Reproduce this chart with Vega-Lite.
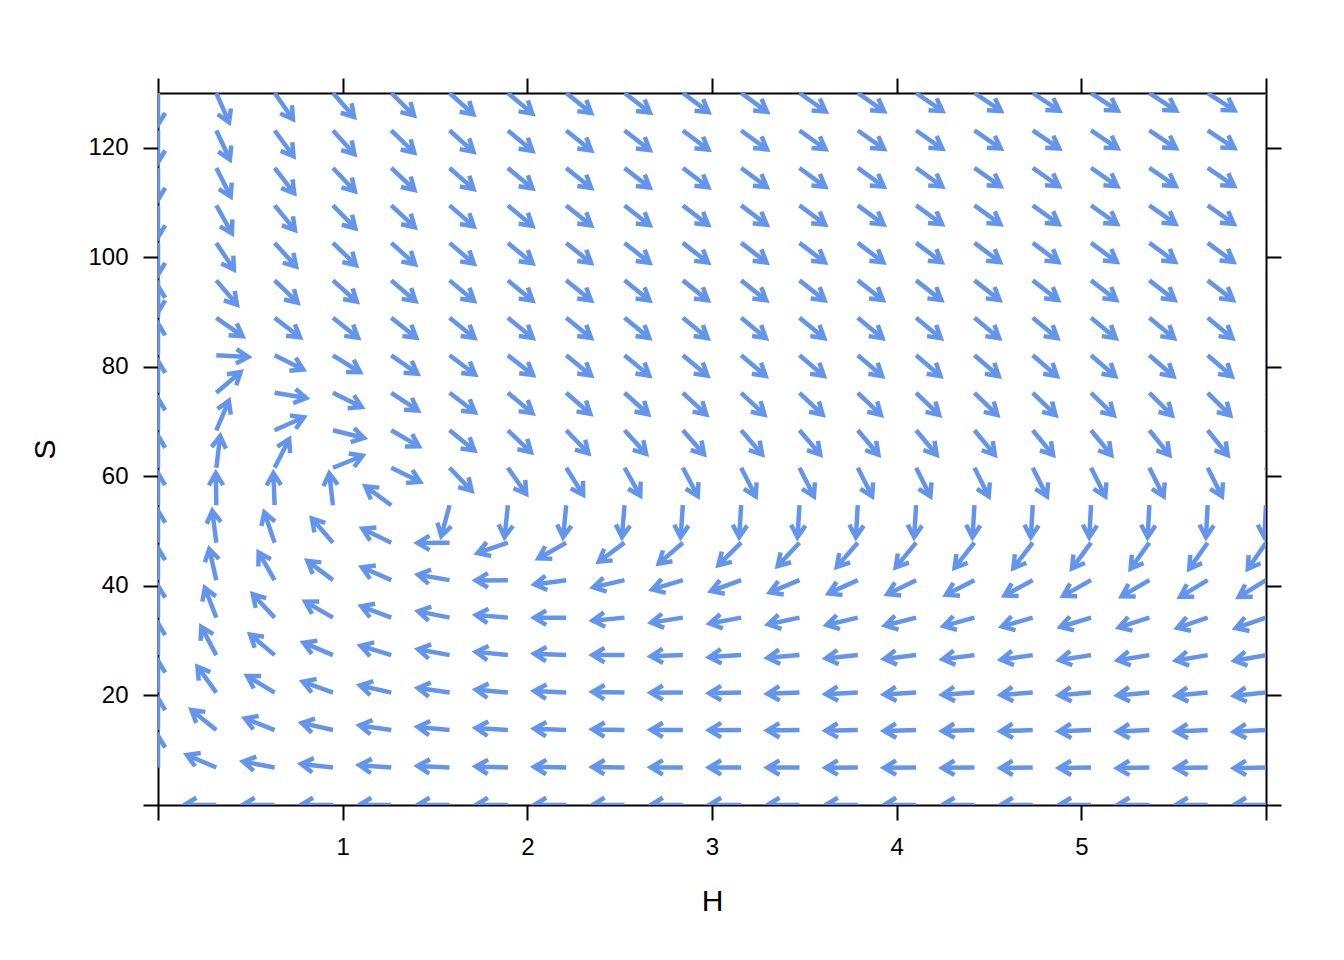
{
"$schema": "https://vega.github.io/schema/vega-lite/v6.json",
"width": 1108, "height": 712,
"autosize": "none",
"padding": {"left": 158, "top": 93, "right": 78, "bottom": 155},
"background": "white",
"config": {
  "view": {"stroke": null},
  "axis": {"grid": false, "domainColor": "black", "domainWidth": 2, "tickColor": "black", "tickWidth": 2, "tickSize": 15,
    "labelFont": "Liberation Sans", "labelFontSize": 24, "labelColor": "black", "labelOverlap": false, "labelFlush": false,
    "titleFont": "Liberation Sans", "titleFontSize": 30, "titleFontWeight": "normal", "titleColor": "black"}
},
"data": {"values": [
{"H":0,"S":6.842,"dir":270},{"H":0,"S":13.684,"dir":270},{"H":0,"S":20.526,"dir":270},{"H":0,"S":27.368,"dir":270},{"H":0,"S":34.211,"dir":270},{"H":0,"S":41.053,"dir":270},{"H":0,"S":47.895,"dir":270},{"H":0,"S":54.737,"dir":270},{"H":0,"S":61.579,"dir":270},{"H":0,"S":68.421,"dir":270},{"H":0,"S":75.263,"dir":270},{"H":0,"S":82.105,"dir":270},{"H":0,"S":88.947,"dir":270},{"H":0,"S":95.789,"dir":90},{"H":0,"S":102.632,"dir":90},{"H":0,"S":109.474,"dir":90},{"H":0,"S":116.316,"dir":90},{"H":0,"S":123.158,"dir":90},{"H":0,"S":130,"dir":90},
{"H":0.3158,"S":0,"dir":180},{"H":0.6316,"S":0,"dir":180},{"H":0.9474,"S":0,"dir":180},{"H":1.2632,"S":0,"dir":180},{"H":1.5789,"S":0,"dir":180},{"H":1.8947,"S":0,"dir":180},{"H":2.2105,"S":0,"dir":180},{"H":2.5263,"S":0,"dir":180},{"H":2.8421,"S":0,"dir":180},{"H":3.1579,"S":0,"dir":180},{"H":3.4737,"S":0,"dir":180},{"H":3.7895,"S":0,"dir":180},{"H":4.1053,"S":0,"dir":180},{"H":4.4211,"S":0,"dir":180},{"H":4.7368,"S":0,"dir":180},{"H":5.0526,"S":0,"dir":180},{"H":5.3684,"S":0,"dir":180},{"H":5.6842,"S":0,"dir":180},{"H":6,"S":0,"dir":180},
{"H":0.3158,"S":6.842,"dir":203.1},{"H":0.6316,"S":6.842,"dir":190.8},{"H":0.9474,"S":6.842,"dir":186.4},{"H":1.2632,"S":6.842,"dir":184.2},{"H":1.5789,"S":6.842,"dir":182.9},{"H":1.8947,"S":6.842,"dir":182.0},{"H":2.2105,"S":6.842,"dir":181.3},{"H":2.5263,"S":6.842,"dir":180.8},{"H":2.8421,"S":6.842,"dir":180.5},{"H":3.1579,"S":6.842,"dir":180.2},{"H":3.4737,"S":6.842,"dir":179.9},{"H":3.7895,"S":6.842,"dir":179.7},{"H":4.1053,"S":6.842,"dir":179.5},{"H":4.4211,"S":6.842,"dir":179.4},{"H":4.7368,"S":6.842,"dir":179.3},{"H":5.0526,"S":6.842,"dir":179.1},{"H":5.3684,"S":6.842,"dir":179.0},{"H":5.6842,"S":6.842,"dir":179.0},{"H":6,"S":6.842,"dir":178.9},
{"H":0.3158,"S":13.684,"dir":219},{"H":0.6316,"S":13.684,"dir":201.6},{"H":0.9474,"S":13.684,"dir":192.9},{"H":1.2632,"S":13.684,"dir":188.3},{"H":1.5789,"S":13.684,"dir":185.5},{"H":1.8947,"S":13.684,"dir":183.6},{"H":2.2105,"S":13.684,"dir":182.3},{"H":2.5263,"S":13.684,"dir":181.2},{"H":2.8421,"S":13.684,"dir":180.4},{"H":3.1579,"S":13.684,"dir":179.8},{"H":3.4737,"S":13.684,"dir":179.3},{"H":3.7895,"S":13.684,"dir":178.8},{"H":4.1053,"S":13.684,"dir":178.5},{"H":4.4211,"S":13.684,"dir":178.2},{"H":4.7368,"S":13.684,"dir":177.9},{"H":5.0526,"S":13.684,"dir":177.7},{"H":5.3684,"S":13.684,"dir":177.4},{"H":5.6842,"S":13.684,"dir":177.3},{"H":6,"S":13.684,"dir":177.1},
{"H":0.3158,"S":20.526,"dir":234},{"H":0.6316,"S":20.526,"dir":211},{"H":0.9474,"S":20.526,"dir":200.0},{"H":1.2632,"S":20.526,"dir":192.7},{"H":1.5789,"S":20.526,"dir":188.2},{"H":1.8947,"S":20.526,"dir":185.1},{"H":2.2105,"S":20.526,"dir":182.8},{"H":2.5263,"S":20.526,"dir":181.2},{"H":2.8421,"S":20.526,"dir":179.8},{"H":3.1579,"S":20.526,"dir":178.8},{"H":3.4737,"S":20.526,"dir":177.9},{"H":3.7895,"S":20.526,"dir":177.2},{"H":4.1053,"S":20.526,"dir":176.6},{"H":4.4211,"S":20.526,"dir":176.1},{"H":4.7368,"S":20.526,"dir":175.7},{"H":5.0526,"S":20.526,"dir":175.3},{"H":5.3684,"S":20.526,"dir":174.9},{"H":5.6842,"S":20.526,"dir":174.6},{"H":6,"S":20.526,"dir":174.3},
{"H":0.3158,"S":27.368,"dir":242},{"H":0.6316,"S":27.368,"dir":220},{"H":0.9474,"S":27.368,"dir":203},{"H":1.2632,"S":27.368,"dir":197.0},{"H":1.5789,"S":27.368,"dir":190.4},{"H":1.8947,"S":27.368,"dir":185.8},{"H":2.2105,"S":27.368,"dir":182.5},{"H":2.5263,"S":27.368,"dir":180.0},{"H":2.8421,"S":27.368,"dir":178.0},{"H":3.1579,"S":27.368,"dir":176.4},{"H":3.4737,"S":27.368,"dir":175.2},{"H":3.7895,"S":27.368,"dir":174.1},{"H":4.1053,"S":27.368,"dir":173.2},{"H":4.4211,"S":27.368,"dir":172.5},{"H":4.7368,"S":27.368,"dir":171.8},{"H":5.0526,"S":27.368,"dir":171.2},{"H":5.3684,"S":27.368,"dir":170.7},{"H":5.6842,"S":27.368,"dir":170.3},{"H":6,"S":27.368,"dir":169.9},
{"H":0.3158,"S":34.211,"dir":249},{"H":0.6316,"S":34.211,"dir":227},{"H":0.9474,"S":34.211,"dir":210},{"H":1.2632,"S":34.211,"dir":200.7},{"H":1.5789,"S":34.211,"dir":191.3},{"H":1.8947,"S":34.211,"dir":184.7},{"H":2.2105,"S":34.211,"dir":179.9},{"H":2.5263,"S":34.211,"dir":174.5},{"H":2.8421,"S":34.211,"dir":171},{"H":3.1579,"S":34.211,"dir":169.5},{"H":3.4737,"S":34.211,"dir":168},{"H":3.7895,"S":34.211,"dir":166.8},{"H":4.1053,"S":34.211,"dir":165.7},{"H":4.4211,"S":34.211,"dir":164.7},{"H":4.7368,"S":34.211,"dir":163.8},{"H":5.0526,"S":34.211,"dir":163},{"H":5.3684,"S":34.211,"dir":162.2},{"H":5.6842,"S":34.211,"dir":161.5},{"H":6,"S":34.211,"dir":160.8},
{"H":0.3158,"S":41.053,"dir":257.3},{"H":0.6316,"S":41.053,"dir":240},{"H":0.9474,"S":41.053,"dir":217},{"H":1.2632,"S":41.053,"dir":203.7},{"H":1.5789,"S":41.053,"dir":189.7},{"H":1.8947,"S":41.053,"dir":179.6},{"H":2.2105,"S":41.053,"dir":172.3},{"H":2.5263,"S":41.053,"dir":167.0},{"H":2.8421,"S":41.053,"dir":163.1},{"H":3.1579,"S":41.053,"dir":160.0},{"H":3.4737,"S":41.053,"dir":157.6},{"H":3.7895,"S":41.053,"dir":155.6},{"H":4.1053,"S":41.053,"dir":154.0},{"H":4.4211,"S":41.053,"dir":152.7},{"H":4.7368,"S":41.053,"dir":151.5},{"H":5.0526,"S":41.053,"dir":150.6},{"H":5.3684,"S":41.053,"dir":149.7},{"H":5.6842,"S":41.053,"dir":149.0},{"H":6,"S":41.053,"dir":148.3},
{"H":0.3158,"S":47.895,"dir":262.8},{"H":0.6316,"S":47.895,"dir":251.3},{"H":0.9474,"S":47.895,"dir":229},{"H":1.2632,"S":47.895,"dir":205.8},{"H":1.5789,"S":47.895,"dir":179.4},{"H":1.8947,"S":47.895,"dir":161.2},{"H":2.2105,"S":47.895,"dir":150.5},{"H":2.5263,"S":47.895,"dir":143.5},{"H":2.8421,"S":47.895,"dir":139},{"H":3.1579,"S":47.895,"dir":135.5},{"H":3.4737,"S":47.895,"dir":133},{"H":3.7895,"S":47.895,"dir":131},{"H":4.1053,"S":47.895,"dir":129.5},{"H":4.4211,"S":47.895,"dir":128.3},{"H":4.7368,"S":47.895,"dir":127.3},{"H":5.0526,"S":47.895,"dir":126.5},{"H":5.3684,"S":47.895,"dir":125.8},{"H":5.6842,"S":47.895,"dir":125.2},{"H":6,"S":47.895,"dir":124.7},
{"H":0.3158,"S":54.737,"dir":269.2},{"H":0.6316,"S":54.737,"dir":267.7},{"H":0.9474,"S":54.737,"dir":263.4},{"H":1.2632,"S":54.737,"dir":216},{"H":1.5789,"S":54.737,"dir":105},{"H":1.8947,"S":54.737,"dir":96},{"H":2.2105,"S":54.737,"dir":95.5},{"H":2.5263,"S":54.737,"dir":94.5},{"H":2.8421,"S":54.737,"dir":94},{"H":3.1579,"S":54.737,"dir":93.5},{"H":3.4737,"S":54.737,"dir":93.5},{"H":3.7895,"S":54.737,"dir":93.5},{"H":4.1053,"S":54.737,"dir":93.5},{"H":4.4211,"S":54.737,"dir":93.4},{"H":4.7368,"S":54.737,"dir":93.3},{"H":5.0526,"S":54.737,"dir":93.2},{"H":5.3684,"S":54.737,"dir":93.1},{"H":5.6842,"S":54.737,"dir":93.0},{"H":6,"S":54.737,"dir":93.0},
{"H":0.3158,"S":61.579,"dir":277},{"H":0.6316,"S":61.579,"dir":297},{"H":0.9474,"S":61.579,"dir":338},{"H":1.2632,"S":61.579,"dir":26},{"H":1.5789,"S":61.579,"dir":46.3},{"H":1.8947,"S":61.579,"dir":55},{"H":2.2105,"S":61.579,"dir":58},{"H":2.5263,"S":61.579,"dir":60.5},{"H":2.8421,"S":61.579,"dir":62.3},{"H":3.1579,"S":61.579,"dir":63},{"H":3.4737,"S":61.579,"dir":63.2},{"H":3.7895,"S":61.579,"dir":63.4},{"H":4.1053,"S":61.579,"dir":63.5},{"H":4.4211,"S":61.579,"dir":63.5},{"H":4.7368,"S":61.579,"dir":63.5},{"H":5.0526,"S":61.579,"dir":63.5},{"H":5.3684,"S":61.579,"dir":63.5},{"H":5.6842,"S":61.579,"dir":63.5},{"H":6,"S":61.579,"dir":63.5},
{"H":0.3158,"S":68.421,"dir":293},{"H":0.6316,"S":68.421,"dir":336},{"H":0.9474,"S":68.421,"dir":14},{"H":1.2632,"S":68.421,"dir":30.3},{"H":1.5789,"S":68.421,"dir":39},{"H":1.8947,"S":68.421,"dir":43.6},{"H":2.2105,"S":68.421,"dir":46},{"H":2.5263,"S":68.421,"dir":47.5},{"H":2.8421,"S":68.421,"dir":48.5},{"H":3.1579,"S":68.421,"dir":49},{"H":3.4737,"S":68.421,"dir":49.5},{"H":3.7895,"S":68.421,"dir":49.8},{"H":4.1053,"S":68.421,"dir":50},{"H":4.4211,"S":68.421,"dir":50.3},{"H":4.7368,"S":68.421,"dir":50.5},{"H":5.0526,"S":68.421,"dir":50.7},{"H":5.3684,"S":68.421,"dir":51},{"H":5.6842,"S":68.421,"dir":51.2},{"H":6,"S":68.421,"dir":51.4},
{"H":0.3158,"S":75.263,"dir":319.5},{"H":0.6316,"S":75.263,"dir":9.5},{"H":0.9474,"S":75.263,"dir":26.5},{"H":1.2632,"S":75.263,"dir":33.6},{"H":1.5789,"S":75.263,"dir":37.5},{"H":1.8947,"S":75.263,"dir":39.8},{"H":2.2105,"S":75.263,"dir":41.2},{"H":2.5263,"S":75.263,"dir":42.2},{"H":2.8421,"S":75.263,"dir":42.8},{"H":3.1579,"S":75.263,"dir":43.2},{"H":3.4737,"S":75.263,"dir":43.5},{"H":3.7895,"S":75.263,"dir":43.7},{"H":4.1053,"S":75.263,"dir":43.9},{"H":4.4211,"S":75.263,"dir":44.1},{"H":4.7368,"S":75.263,"dir":44.3},{"H":5.0526,"S":75.263,"dir":44.5},{"H":5.3684,"S":75.263,"dir":44.7},{"H":5.6842,"S":75.263,"dir":44.9},{"H":6,"S":75.263,"dir":45},
{"H":0.3158,"S":82.105,"dir":3},{"H":0.6316,"S":82.105,"dir":26.5},{"H":0.9474,"S":82.105,"dir":32},{"H":1.2632,"S":82.105,"dir":35},{"H":1.5789,"S":82.105,"dir":37},{"H":1.8947,"S":82.105,"dir":38.2},{"H":2.2105,"S":82.105,"dir":38.9},{"H":2.5263,"S":82.105,"dir":39.4},{"H":2.8421,"S":82.105,"dir":39.7},{"H":3.1579,"S":82.105,"dir":40},{"H":3.4737,"S":82.105,"dir":40.2},{"H":3.7895,"S":82.105,"dir":40.4},{"H":4.1053,"S":82.105,"dir":40.5},{"H":4.4211,"S":82.105,"dir":40.6},{"H":4.7368,"S":82.105,"dir":40.7},{"H":5.0526,"S":82.105,"dir":40.8},{"H":5.3684,"S":82.105,"dir":40.9},{"H":5.6842,"S":82.105,"dir":41},{"H":6,"S":82.105,"dir":41},
{"H":0.3158,"S":88.947,"dir":35},{"H":0.6316,"S":88.947,"dir":37.5},{"H":0.9474,"S":88.947,"dir":38.3},{"H":1.2632,"S":88.947,"dir":38.6},{"H":1.5789,"S":88.947,"dir":38.8},{"H":1.8947,"S":88.947,"dir":39},{"H":2.2105,"S":88.947,"dir":39.1},{"H":2.5263,"S":88.947,"dir":39.2},{"H":2.8421,"S":88.947,"dir":39.3},{"H":3.1579,"S":88.947,"dir":39.3},{"H":3.4737,"S":88.947,"dir":39.3},{"H":3.7895,"S":88.947,"dir":39.4},{"H":4.1053,"S":88.947,"dir":39.4},{"H":4.4211,"S":88.947,"dir":39.4},{"H":4.7368,"S":88.947,"dir":39.5},{"H":5.0526,"S":88.947,"dir":39.5},{"H":5.3684,"S":88.947,"dir":39.5},{"H":5.6842,"S":88.947,"dir":39.5},{"H":6,"S":88.947,"dir":39.5},
{"H":0.3158,"S":95.789,"dir":49.7},{"H":0.6316,"S":95.789,"dir":44.0},{"H":0.9474,"S":95.789,"dir":41.8},{"H":1.2632,"S":95.789,"dir":40.7},{"H":1.5789,"S":95.789,"dir":40.0},{"H":1.8947,"S":95.789,"dir":39.5},{"H":2.2105,"S":95.789,"dir":39.1},{"H":2.5263,"S":95.789,"dir":38.9},{"H":2.8421,"S":95.789,"dir":38.7},{"H":3.1579,"S":95.789,"dir":38.5},{"H":3.4737,"S":95.789,"dir":38.4},{"H":3.7895,"S":95.789,"dir":38.2},{"H":4.1053,"S":95.789,"dir":38.1},{"H":4.4211,"S":95.789,"dir":38.1},{"H":4.7368,"S":95.789,"dir":38.0},{"H":5.0526,"S":95.789,"dir":37.9},{"H":5.3684,"S":95.789,"dir":37.9},{"H":5.6842,"S":95.789,"dir":37.8},{"H":6,"S":95.789,"dir":37.8},
{"H":0.3158,"S":102.632,"dir":56.6},{"H":0.6316,"S":102.632,"dir":47.8},{"H":0.9474,"S":102.632,"dir":44.0},{"H":1.2632,"S":102.632,"dir":41.9},{"H":1.5789,"S":102.632,"dir":40.5},{"H":1.8947,"S":102.632,"dir":39.6},{"H":2.2105,"S":102.632,"dir":38.9},{"H":2.5263,"S":102.632,"dir":38.4},{"H":2.8421,"S":102.632,"dir":38.0},{"H":3.1579,"S":102.632,"dir":37.7},{"H":3.4737,"S":102.632,"dir":37.4},{"H":3.7895,"S":102.632,"dir":37.2},{"H":4.1053,"S":102.632,"dir":37.0},{"H":4.4211,"S":102.632,"dir":36.8},{"H":4.7368,"S":102.632,"dir":36.7},{"H":5.0526,"S":102.632,"dir":36.5},{"H":5.3684,"S":102.632,"dir":36.4},{"H":5.6842,"S":102.632,"dir":36.3},{"H":6,"S":102.632,"dir":36.2},
{"H":0.3158,"S":109.474,"dir":60.7},{"H":0.6316,"S":109.474,"dir":50.4},{"H":0.9474,"S":109.474,"dir":45.6},{"H":1.2632,"S":109.474,"dir":42.8},{"H":1.5789,"S":109.474,"dir":41.0},{"H":1.8947,"S":109.474,"dir":39.7},{"H":2.2105,"S":109.474,"dir":38.8},{"H":2.5263,"S":109.474,"dir":38.1},{"H":2.8421,"S":109.474,"dir":37.5},{"H":3.1579,"S":109.474,"dir":37.1},{"H":3.4737,"S":109.474,"dir":36.7},{"H":3.7895,"S":109.474,"dir":36.4},{"H":4.1053,"S":109.474,"dir":36.1},{"H":4.4211,"S":109.474,"dir":35.9},{"H":4.7368,"S":109.474,"dir":35.7},{"H":5.0526,"S":109.474,"dir":35.5},{"H":5.3684,"S":109.474,"dir":35.3},{"H":5.6842,"S":109.474,"dir":35.2},{"H":6,"S":109.474,"dir":35.1},
{"H":0.3158,"S":116.316,"dir":63.3},{"H":0.6316,"S":116.316,"dir":52.3},{"H":0.9474,"S":116.316,"dir":46.8},{"H":1.2632,"S":116.316,"dir":43.5},{"H":1.5789,"S":116.316,"dir":41.4},{"H":1.8947,"S":116.316,"dir":39.9},{"H":2.2105,"S":116.316,"dir":38.7},{"H":2.5263,"S":116.316,"dir":37.9},{"H":2.8421,"S":116.316,"dir":37.2},{"H":3.1579,"S":116.316,"dir":36.6},{"H":3.4737,"S":116.316,"dir":36.2},{"H":3.7895,"S":116.316,"dir":35.8},{"H":4.1053,"S":116.316,"dir":35.4},{"H":4.4211,"S":116.316,"dir":35.1},{"H":4.7368,"S":116.316,"dir":34.9},{"H":5.0526,"S":116.316,"dir":34.7},{"H":5.3684,"S":116.316,"dir":34.5},{"H":5.6842,"S":116.316,"dir":34.3},{"H":6,"S":116.316,"dir":34.1},
{"H":0.3158,"S":123.158,"dir":65.0},{"H":0.6316,"S":123.158,"dir":53.7},{"H":0.9474,"S":123.158,"dir":47.7},{"H":1.2632,"S":123.158,"dir":44.1},{"H":1.5789,"S":123.158,"dir":41.7},{"H":1.8947,"S":123.158,"dir":39.9},{"H":2.2105,"S":123.158,"dir":38.7},{"H":2.5263,"S":123.158,"dir":37.7},{"H":2.8421,"S":123.158,"dir":36.9},{"H":3.1579,"S":123.158,"dir":36.2},{"H":3.4737,"S":123.158,"dir":35.7},{"H":3.7895,"S":123.158,"dir":35.2},{"H":4.1053,"S":123.158,"dir":34.9},{"H":4.4211,"S":123.158,"dir":34.5},{"H":4.7368,"S":123.158,"dir":34.2},{"H":5.0526,"S":123.158,"dir":34.0},{"H":5.3684,"S":123.158,"dir":33.8},{"H":5.6842,"S":123.158,"dir":33.5},{"H":6,"S":123.158,"dir":33.4},
{"H":0.3158,"S":130,"dir":66.5},{"H":0.6316,"S":130,"dir":55.0},{"H":0.9474,"S":130,"dir":48.6},{"H":1.2632,"S":130,"dir":44.7},{"H":1.5789,"S":130,"dir":42.0},{"H":1.8947,"S":130,"dir":40.1},{"H":2.2105,"S":130,"dir":38.7},{"H":2.5263,"S":130,"dir":37.6},{"H":2.8421,"S":130,"dir":36.7},{"H":3.1579,"S":130,"dir":36.0},{"H":3.4737,"S":130,"dir":35.4},{"H":3.7895,"S":130,"dir":34.9},{"H":4.1053,"S":130,"dir":34.5},{"H":4.4211,"S":130,"dir":34.1},{"H":4.7368,"S":130,"dir":33.8},{"H":5.0526,"S":130,"dir":33.5},{"H":5.3684,"S":130,"dir":33.2},{"H":5.6842,"S":130,"dir":33.0},{"H":6,"S":130,"dir":32.8}
]},
"layer": [
  {
    "mark": {"type": "point", "shape": "M0,0L2,0M1.25,-0.45L2,0L1.25,0.45", "filled": false, "size": 1024, "strokeWidth": 4.5, "color": "#6495ED", "opacity": 1, "strokeOpacity": 1, "clip": true, "strokeJoin": "miter", "strokeCap": "butt"},
    "encoding": {
      "x": {"field": "H", "type": "quantitative", "scale": {"domain": [0, 6], "nice": false, "zero": false},
        "axis": {"orient": "bottom", "values": [0,1,2,3,4,5,6], "labelExpr": "datum.value == 0 || datum.value == 6 ? '' : datum.label", "title": "H", "labelPadding": 15, "titleY": 96, "titleBaseline": "middle", "titleAlign": "center"}},
      "y": {"field": "S", "type": "quantitative", "scale": {"domain": [0, 130], "nice": false, "zero": false},
        "axis": {"orient": "left", "values": [0,20,40,60,80,100,120], "labelExpr": "datum.value == 0 ? '' : datum.label", "title": "S", "labelPadding": 15, "titleX": -113, "titleY": 356, "titleBaseline": "middle", "titleAlign": "center", "titleAngle": -90}},
      "angle": {"field": "dir", "type": "quantitative", "scale": null}
    }
  },
  {
    "mark": {"type": "point", "opacity": 0},
    "encoding": {
      "x": {"field": "H", "type": "quantitative", "scale": {"domain": [0, 6], "nice": false, "zero": false},
        "axis": {"orient": "top", "values": [0,1,2,3,4,5,6], "labels": false, "title": null}},
      "y": {"field": "S", "type": "quantitative", "scale": {"domain": [0, 130], "nice": false, "zero": false},
        "axis": {"orient": "right", "values": [0,20,40,60,80,100,120], "labels": false, "title": null}}
    }
  }
],
"resolve": {"axis": {"x": "independent", "y": "independent"}}
}
